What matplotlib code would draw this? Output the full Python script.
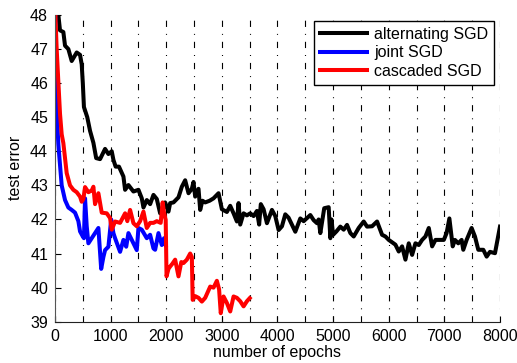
import matplotlib
matplotlib.use('Agg')
import matplotlib.pyplot as plt
from matplotlib.ticker import MultipleLocator

plt.rcParams['font.family'] = ['Liberation Sans', 'DejaVu Sans']
plt.rcParams['lines.scale_dashes'] = False

# alternating SGD
alt_epochs = [30, 60, 90, 150, 180, 240, 300, 390, 450, 480, 500, 520, 580, 630, 690, 740,
              810, 900, 960, 1020, 1050, 1090, 1150, 1230, 1260, 1320, 1410, 1500, 1560, 1590,
              1650, 1710, 1770, 1830, 1890, 1950, 1980, 2040, 2070, 2130, 2220, 2280, 2340,
              2400, 2460, 2490, 2520, 2580, 2610, 2650, 2700, 2780, 2850, 2940, 3000, 3090,
              3150, 3210, 3270, 3300, 3330, 3390, 3450, 3510, 3570, 3630, 3670, 3700, 3750,
              3810, 3900, 3960, 4020, 4080, 4140, 4200, 4320, 4410, 4470, 4530, 4590, 4650,
              4710, 4740, 4770, 4840, 4920, 4950, 4970, 5000, 5060, 5130, 5190, 5250, 5310,
              5370, 5460, 5550, 5610, 5700, 5790, 5880, 5940, 6000, 6120, 6180, 6240, 6300,
              6360, 6420, 6480, 6540, 6600, 6660, 6720, 6780, 6840, 6990, 7040, 7090, 7150,
              7190, 7250, 7310, 7340, 7400, 7490, 7550, 7610, 7700, 7760, 7820, 7910, 8000]
alt_error = [48.5, 48.0, 47.55, 47.5, 47.1, 47.0, 46.65, 46.9, 46.83, 46.55, 46.0, 45.3, 45.0,
             44.6, 44.25, 43.8, 43.77, 44.07, 43.92, 44.0, 43.75, 43.55, 43.55, 43.26, 42.87,
             43.01, 42.82, 42.87, 42.62, 42.35, 42.57, 42.45, 42.72, 42.6, 42.18, 42.35, 42.5,
             42.23, 42.48, 42.5, 42.65, 42.96, 43.15, 42.77, 42.9, 43.1, 42.67, 42.9, 42.28,
             42.55, 42.5, 42.55, 42.62, 42.77, 42.3, 42.22, 42.4, 42.18, 41.94, 42.48, 41.85,
             42.18, 42.12, 42.18, 42.1, 42.25, 41.85, 42.45, 42.3, 41.89, 42.28, 42.1, 41.69,
             41.8, 42.15, 42.05, 41.64, 42.03, 41.95, 42.04, 42.13, 41.98, 41.89, 42.0, 41.6,
             42.33, 42.36, 41.45, 42.0, 41.55, 41.65, 41.79, 41.7, 41.84, 41.6, 41.5, 41.75,
             41.94, 41.79, 41.8, 41.94, 41.55, 41.5, 41.4, 41.26, 41.06, 41.21, 40.82, 41.3,
             40.96, 41.3, 41.25, 41.4, 41.5, 41.75, 41.21, 41.4, 41.4, 41.6, 42.03, 41.21,
             41.4, 41.3, 41.4, 41.11, 41.4, 41.75, 41.5, 41.11, 41.11, 40.91, 41.05, 41.01,
             41.79]

# joint SGD
joint_epochs = [0, 20, 30, 60, 90, 120, 180, 240, 300, 360, 420, 450, 500, 520, 540, 570, 600,
                660, 720, 780, 830, 870, 900, 960, 1010, 1050, 1080, 1170, 1230, 1280, 1320,
                1380, 1470, 1500, 1560, 1650, 1710, 1770, 1800, 1860, 1920, 1960, 1990]
joint_error = [48.5, 46.0, 45.2, 44.2, 43.6, 43.0, 42.57, 42.35, 42.28, 42.2, 41.95, 41.65,
               41.5, 41.45, 42.62, 41.8, 41.3, 41.45, 41.6, 41.75, 40.55, 40.9, 41.1, 41.2,
               42.0, 41.6, 41.45, 41.05, 41.4, 41.2, 41.6, 41.4, 41.1, 41.75, 41.7, 41.45,
               41.55, 41.15, 41.11, 41.6, 41.25, 41.45, 41.25]

# cascaded SGD
casc_epochs = [0, 30, 60, 90, 120, 150, 210, 270, 330, 390, 450, 480, 510, 540, 600, 660, 690,
               720, 780, 840, 930, 990, 1020, 1080, 1170, 1260, 1300, 1350, 1410, 1470, 1530,
               1590, 1650, 1710, 1770, 1830, 1900, 1935, 1960, 1990, 2005, 2040, 2070, 2110,
               2160, 2220, 2270, 2310, 2370, 2430, 2460, 2475, 2520, 2580, 2640, 2700, 2790,
               2850, 2910, 2950, 2980, 3030, 3090, 3150, 3210, 3270, 3330, 3390, 3450, 3500]
casc_error = [48.3, 47.0, 46.04, 45.1, 44.5, 44.24, 43.36, 43.0, 42.87, 42.8, 42.67, 42.52,
              42.6, 42.95, 42.8, 42.85, 42.96, 42.45, 42.77, 42.2, 42.18, 42.04, 41.7, 41.94,
              41.9, 42.18, 41.95, 42.28, 41.89, 41.8, 41.95, 42.23, 41.75, 41.9, 41.9, 41.95,
              41.9, 42.5, 42.2, 41.99, 40.33, 40.55, 40.62, 40.7, 40.82, 40.33, 40.75, 40.72,
              40.82, 41.0, 40.9, 39.64, 39.75, 39.7, 39.59, 39.7, 40.03, 40.0, 40.2, 39.95,
              39.25, 39.74, 39.55, 39.3, 39.74, 39.7, 39.6, 39.45, 39.6, 39.69]

fig = plt.figure(figsize=(5.17, 3.63), dpi=100)
ax = fig.add_axes([0.1064, 0.1138, 0.8607, 0.8449])

ax.plot(alt_epochs, alt_error, color='black', lw=2.9, label='alternating SGD')
ax.plot(joint_epochs, joint_error, color='blue', lw=2.9, label='joint SGD')
ax.plot(casc_epochs, casc_error, color='red', lw=2.9, label='cascaded SGD')

ax.set_xlim(0, 8000)
ax.set_ylim(39, 48)
ax.xaxis.set_major_locator(MultipleLocator(1000))
ax.xaxis.set_minor_locator(MultipleLocator(500))
ax.yaxis.set_major_locator(MultipleLocator(1))

# dash-dot vertical grid every 500 epochs
ax.grid(True, axis='x', which='both', color='black', lw=0.8,
        linestyle=(0, (4.5, 5.0, 0.7, 5.0)))
ax.set_axisbelow(True)

for s in ['top', 'right']:
    ax.spines[s].set_visible(False)
ax.spines['left'].set_color('#555555')
ax.spines['bottom'].set_color('#222222')
ax.tick_params(direction='in', length=4, width=0.8, labelsize=11.5, pad=5)
ax.tick_params(which='minor', length=0)

ax.set_xlabel('number of epochs', fontsize=11.5, labelpad=1)
ax.set_ylabel('test error', fontsize=11.5, labelpad=5)

leg = ax.legend(loc='upper right', fontsize=11.5, handlelength=2.95, handletextpad=0.4,
                labelspacing=0.22, borderpad=0.4, borderaxespad=0.35, fancybox=False,
                framealpha=1)
leg.get_frame().set_edgecolor('black')
leg.get_frame().set_linewidth(1.0)

fig.savefig('out.png', dpi=100)
